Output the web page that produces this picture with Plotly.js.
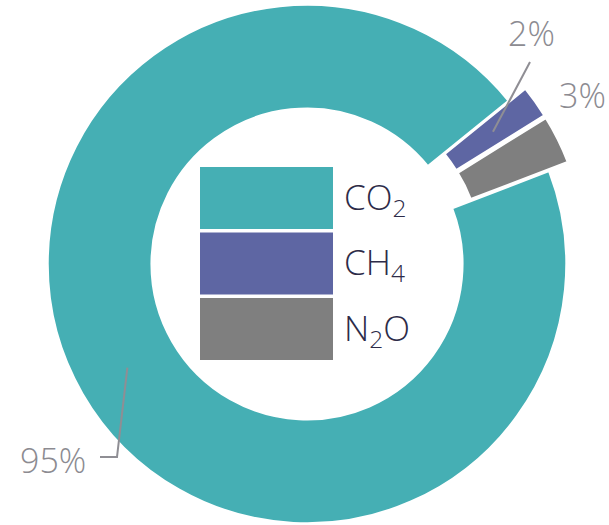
<!DOCTYPE html>
<html><head><meta charset="utf-8">
<script src="https://cdn.plot.ly/plotly-3.0.1.min.js"></script>
<style>
html,body{margin:0;padding:0;overflow:hidden;background:#fff;width:609px;height:525px}
#chart{position:absolute;left:0;top:-16px;width:609px;height:580px}
</style>
</head><body><div id="chart"></div>
<script>
// ---- data ----
const gases = ['CO<sub>2</sub>', 'CH<sub>4</sub>', 'N<sub>2</sub>O'];
const gasNames = ['CO2', 'CH4', 'N2O'];
const shares = [95, 2, 3];
const pctLabels = ['95%', '2%', '3%'];
const colors = ['#45afb4', '#5e66a3', '#7f7f7f'];
const pulls = [0, 0.08, 0.08];

// ---- layout geometry ----
const W = 609, H = 580, OFFY = 16;
const M = {l: 27, r: 22, t: 0, b: 20};
const PW = W - M.l - M.r, PH = H - M.t - M.b;
const ROT = 69, HOLE = 0.6;
const maxPull = Math.max(...pulls);
const R = Math.min(PW, PH) / (2 + 2 * maxPull);
const cx = M.l + PW / 2, cy = M.t + PH / 2;
function P(x, y) { // viewport px -> paper
  return {x: (x - M.l) / PW, y: 1 - (y + OFFY - M.t) / PH};
}
const total = shares.reduce((a, b) => a + b, 0);
let acc = 0;
const mids = shares.map(v => { const m = ROT + (acc + v / 2) / total * 360; acc += v; return m; });
function ringPoint(i) { // viewport px of slice mid-ring point
  const a = mids[i] * Math.PI / 180;
  const r = R * (1 + HOLE) / 2 + pulls[i] * R;
  return [cx + r * Math.sin(a), cy - r * Math.cos(a) - OFFY];
}

const pctFont = {family: 'Open Sans, sans-serif', size: 34, color: '#8c8b91', weight: 300};
const legFont = {family: 'Open Sans, sans-serif', size: 35, color: '#2d2b48', weight: 300};
const lineStyle = {color: '#8f8e94', width: 2};

const shapes = [];
const annotations = [];

// percentage labels
const labelPos = [[53, 460], [531, 33], [582, 95]];
pctLabels.forEach((t, i) => {
  const p = P(labelPos[i][0], labelPos[i][1]);
  annotations.push({xref: 'paper', yref: 'paper', x: p.x, y: p.y, text: t, showarrow: false,
    xanchor: 'center', yanchor: 'middle', font: pctFont});
});
// leader 95%
{
  const s = ringPoint(0);
  const e1 = [117, 457], e2 = [100, 457];
  const a = P(s[0], s[1]), b = P(e1[0], e1[1]), c = P(e2[0], e2[1]);
  shapes.push({type: 'path', xref: 'paper', yref: 'paper',
    path: `M${a.x},${a.y} L${b.x},${b.y} L${c.x},${c.y}`, line: lineStyle});
}
// leader 2%
{
  const s = ringPoint(1);
  const e = [530, 62];
  const a = P(s[0], s[1]), b = P(e[0], e[1]);
  shapes.push({type: 'line', xref: 'paper', yref: 'paper', x0: a.x, y0: a.y, x1: b.x, y1: b.y, line: lineStyle});
}

// central legend
const legX0 = 200, legX1 = 333, legTop = 167, rowH = 62, rowStep = 65.5, legTextX = 342;
gases.forEach((g, i) => {
  const y0 = legTop + i * rowStep, y1 = y0 + rowH;
  const a = P(legX0, y0), b = P(legX1, y1);
  shapes.push({type: 'rect', xref: 'paper', yref: 'paper', x0: a.x, y0: a.y, x1: b.x, y1: b.y,
    fillcolor: colors[i], line: {width: 0}});
  const t = P(legTextX, (y0 + y1) / 2);
  annotations.push({xref: 'paper', yref: 'paper', x: t.x, y: t.y, text: g, showarrow: false,
    xanchor: 'left', yanchor: 'middle', font: legFont});
});

const trace = {
  type: 'pie', labels: gasNames, values: shares, hole: HOLE, sort: false,
  direction: 'clockwise', rotation: ROT, pull: pulls,
  marker: {colors: colors, line: {color: '#ffffff', width: 2}},
  textinfo: 'none', hoverinfo: 'none'
};

Plotly.newPlot('chart', [trace], {
  width: W, height: H, margin: M, showlegend: false,
  paper_bgcolor: '#ffffff', plot_bgcolor: '#ffffff',
  shapes: shapes, annotations: annotations
}, {staticPlot: true});
</script>
</body></html>
